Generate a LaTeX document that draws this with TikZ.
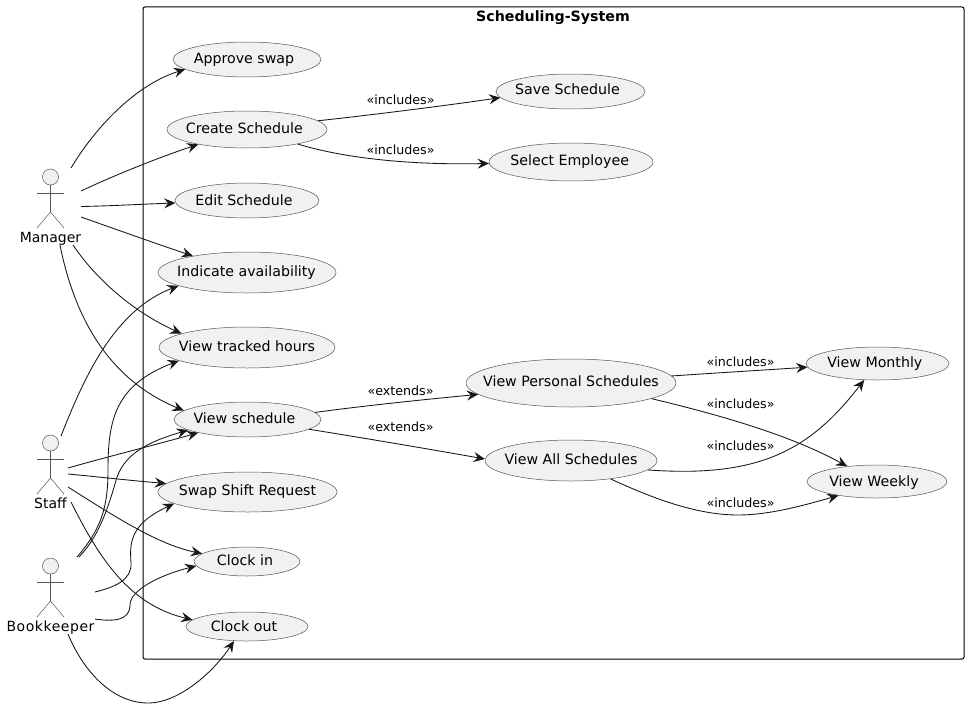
\documentclass[tikz,border=0pt]{standalone}
\usepackage{fontspec}
\setmainfont{DejaVu Sans}
\usetikzlibrary{shapes.geometric,arrows.meta}
\definecolor{ink}{HTML}{181818}
\definecolor{thinink}{HTML}{555555}
\definecolor{usefill}{HTML}{F1F1F1}
\tikzset{
  usecase/.style={ellipse,draw=thinink,fill=usefill,line width=0.375pt,inner sep=0pt,font=\fontsize{10.65}{12}\selectfont,text=black},
  conn/.style={draw=ink,line width=0.65pt,-{Stealth[length=8.5pt,width=7.5pt,inset=3pt]}},
  elabel/.style={font=\fontsize{9.5}{11}\selectfont,inner sep=0pt,text=black,anchor=base},
  actorlabel/.style={font=\fontsize{10.5}{12}\selectfont,inner sep=0pt,text=black,anchor=base},
  actorline/.style={draw=thinink,line width=0.375pt}
}
\begin{document}
\begin{tikzpicture}[x=0.75pt,y=-0.75pt]
\useasboundingbox (0,0) rectangle (969,724);
\draw[black,line width=0.75pt,rounded corners=1.5pt] (143,7) rectangle (964,659);
\node[font=\fontsize{10.65}{12}\selectfont\bfseries,inner sep=0pt,anchor=base] (title) at (553,22) {Scheduling-System};
% use cases: name, x, y, width, height, text shift x (px), text baseline below centre (px), text
\newcommand{\uc}[8]{\node[usecase,minimum width=#4*0.75pt,minimum height=#5*0.75pt] (#1) at (#2,#3) {\makebox[0pt]{\hspace*{#6pt}\smash{\raisebox{-#7pt}{#8}}}};}
\uc{approve}{247}{59.5}{148}{35}{-4.5}{3}{Approve swap}
\uc{create}{247}{129.5}{160}{37}{-4}{3}{Create Schedule}
\uc{edit}{247}{200.5}{144}{35}{-4.5}{3.75}{Edit Schedule}
\uc{indicate}{247}{272.5}{178}{41}{-0.75}{3}{Indicate availability}
\uc{tracked}{247}{347.5}{176}{41}{0}{3}{View tracked hours}
\uc{schedule}{247.5}{419.5}{147}{35}{-4.5}{3}{View schedule}
\uc{swap}{247.5}{492}{179}{40}{0}{2.25}{Swap Shift Request}
\uc{clockin}{247}{561.5}{106}{29}{-3}{3}{Clock in}
\uc{clockout}{247}{626.5}{122}{29}{-4.5}{3.75}{Clock out}
\uc{save}{570.5}{91.5}{149}{35}{-4.5}{2.25}{Save Schedule}
\uc{select}{571}{162}{164}{38}{-2}{2.25}{Select Employee}
\uc{personal}{571}{383}{210}{48}{0}{2.25}{View Personal Schedules}
\uc{all}{571}{460.5}{172}{41}{0}{3}{View All Schedules}
\uc{monthly}{877.5}{363.5}{143}{33}{-4}{3}{View Monthly}
\uc{weekly}{877}{481.5}{140}{33}{-4.5}{3.75}{View Weekly}
% actors
\newcommand{\actor}[3]{%
  \node[circle,draw=thinink,fill=usefill,line width=0.375pt,minimum size=12pt,inner sep=0pt] (#1head) at (50.5,#2) {};
  \draw[actorline] (#1head.south) -- (50.5,#2+35);
  \draw[actorline] (37,#2+16) -- (64,#2+16);
  \draw[actorline] (37,#2+51) -- (50.5,#2+35) -- (64,#2+51);
  \node[actorlabel] (#1) at (50.5,#2+65) {#3};}
\actor{manager}{177}{Manager}
\actor{staff}{443}{Staff}
\actor{book}{566}{\addfontfeature{LetterSpace=4}Bookkeeper}
% free ends
\coordinate (m1) at (71,168);
\coordinate (m2) at (81,191);
\coordinate (m3) at (81,206.5);
\coordinate (m4) at (81,217);
\coordinate (m5) at (73,245);
\coordinate (m6) at (60,245);
\coordinate (s1) at (61,436);
\coordinate (s2) at (68,468);
\coordinate (s3) at (68,474);
\coordinate (s4) at (68,487);
\coordinate (s5) at (71,502);
\coordinate (b1) at (77,557);
\coordinate (b2) at (79,557);
\coordinate (b3) at (95,592);
\coordinate (b4) at (95,619);
\coordinate (b5) at (68,634);
% manager
\draw[conn] (m1) .. controls (95,128) and (135,85) .. (approve.189);
\draw[conn] (m2) .. controls (115,175) and (160,157) .. (create.197);
\draw[conn] (m3) .. controls (110,206) and (145,204) .. (edit.182);
\draw[conn] (m4) .. controls (115,229) and (160,245) .. (indicate.163);
\draw[conn] (m5) .. controls (100,285) and (140,315) .. (tracked.168);
\draw[conn] (m6) .. controls (75,320) and (110,380) .. (schedule.172);
% staff
\draw[conn] (s1) .. controls (85,375) and (115,310) .. (indicate.191);
\draw[conn] (s2) .. controls (110,456) and (155,445) .. (schedule.195);
\draw[conn] (s3) .. controls (100,477) and (135,481) .. (swap.174);
\draw[conn] (s4) .. controls (120,520) and (160,545) .. (clockin.170);
\draw[conn] (s5) .. controls (100,560) and (130,605) .. (clockout.173);
% bookkeeper
\draw[conn] (b1) .. controls (100,530) and (108,510) .. (108,470) .. controls (108,420) and (115,385) .. (tracked.191);
\draw[conn] (b2) .. controls (95,540) and (105,520) .. (117,477) .. controls (127,450) and (155,440) .. (schedule.190);
\draw[conn] (b3) .. controls (115,587) and (132,580) .. (131,563) .. controls (130,545) and (128,525) .. (swap.189);
\draw[conn] (b4) .. controls (115,622) and (130,620) .. (130,605) .. controls (130,590) and (160,575) .. (clockin.185);
\draw[conn] (b5) .. controls (85,675) and (115,703) .. (148,703) .. controls (180,703) and (215,670) .. (clockout.228);
% includes / extends
\draw[conn] (create.7) .. controls (380,114) and (450,105) .. (save.185);
\draw[conn] (create.-16) .. controls (350,160) and (420,165) .. (select.181);
\draw[conn] (schedule.6) .. controls (370,405) and (430,399) .. (personal.187);
\draw[conn] (schedule.-9) .. controls (370,439) and (440,451) .. (all.179);
\draw[conn] (personal.4) .. controls (715,373) and (765,370) .. (monthly.183);
\draw[conn] (personal.-11) .. controls (720,415) and (790,435) .. (weekly.153);
\draw[conn] (all.-7) .. controls (760,478) and (810,450) .. (monthly.231);
\draw[conn] (all.-25) .. controls (650,497) and (695,515) .. (738,515) .. controls (770,515) and (805,505) .. (weekly.200);
% labels
\node[elabel] (l1) at (400.5,104) {«includes»};
\node[elabel] (l2) at (400.5,154) {«includes»};
\node[elabel] (l3) at (400.5,395) {«extends»};
\node[elabel] (l4) at (400.5,431) {«extends»};
\node[elabel] (l5) at (740.5,366) {«includes»};
\node[elabel] (l6) at (740.5,408) {«includes»};
\node[elabel] (l7) at (740.5,450) {«includes»};
\node[elabel] (l8) at (740.5,507) {«includes»};
\end{tikzpicture}
\end{document}
